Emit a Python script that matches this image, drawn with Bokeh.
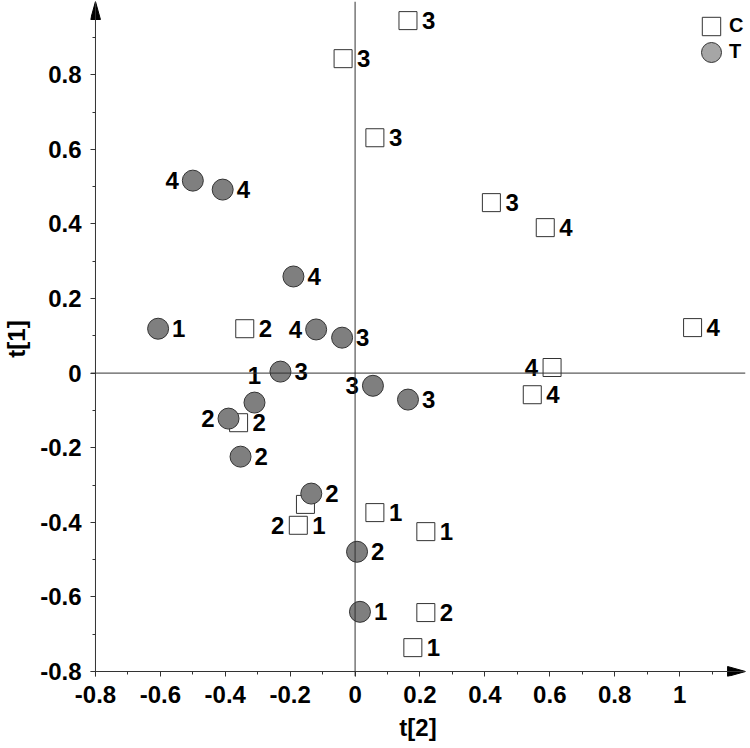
import math
from bokeh.plotting import figure
from bokeh.models import (ColumnDataSource, FixedTicker, CustomJSTickFormatter, Span,
                          Legend, LegendItem)
from bokeh.core.properties import value
from bokeh.embed import file_html
from bokeh.resources import INLINE

# ---------------- data ----------------
C_x = [0.163, -0.037, 0.061, 0.420, 0.586, 1.040, -0.340, 0.607, 0.546, -0.359,
       -0.153, -0.175, 0.061, 0.218, 0.218, 0.178]
C_y = [0.945, 0.843, 0.631, 0.457, 0.390, 0.122, 0.119, 0.015, -0.058, -0.133,
       -0.352, -0.408, -0.374, -0.425, -0.642, -0.736]
C_label_right = ["3", "3", "3", "3", "4", "4", "2", "", "4", "2", "", "1", "1", "1", "2", "1"]
C_label_left = ["", "", "", "", "", "", "", "4", "", "", "", "2", "", "", "", ""]

T_x = [-0.500, -0.408, -0.190, -0.607, -0.120, -0.040, -0.230, -0.310, 0.055, 0.163,
       -0.390, -0.353, -0.135, 0.006, 0.015]
T_y = [0.516, 0.492, 0.259, 0.119, 0.117, 0.095, 0.004, -0.079, -0.034, -0.071,
       -0.122, -0.224, -0.323, -0.479, -0.640]
T_label_right = ["", "4", "4", "1", "", "3", "3", "", "", "3", "", "2", "2", "2", "1"]
T_label_left = ["4", "", "", "", "4", "", "", "", "3", "", "2", "", "", "", ""]
T_label_above = ["", "", "", "", "", "", "", "1", "", "", "", "", "", "", ""]

x_ticks = [-0.8, -0.6, -0.4, -0.2, 0.0, 0.2, 0.4, 0.6, 0.8, 1.0]
x_minor = [-0.7, -0.5, -0.3, -0.1, 0.1, 0.3, 0.5, 0.7, 0.9, 1.1]
y_ticks = [-0.8, -0.6, -0.4, -0.2, 0.0, 0.2, 0.4, 0.6, 0.8]
y_minor = [-0.7, -0.5, -0.3, -0.1, 0.1, 0.3, 0.5, 0.7, 0.9]
x_title = "t[2]"
y_title = "t[1]"
legend_labels = ["C", "T"]
AXIS_ORIGIN = (-0.8, -0.8)   # where the two arrowed axes cross

# ---------------- layout / style ----------------
W, H = 750, 748
BORDER_L, BORDER_R, BORDER_T, BORDER_B = 87, 5, 1, 72
FRAME_W = W - BORDER_L - BORDER_R
FRAME_H = H - BORDER_T - BORDER_B
PX_X, PX_Y = 326.0, 373.0       # pixels per data unit
TICK = 5                        # tick length (px); frame edge sits one tick outside the axes

x_start = AXIS_ORIGIN[0] - TICK / PX_X
x_end = x_start + FRAME_W / PX_X
y_start = AXIS_ORIGIN[1] - TICK / PX_Y
y_end = y_start + FRAME_H / PX_Y

FONT = "Liberation Sans"
FS = "24px"
DARK = "#333333"

p = figure(width=W, height=H, x_range=(x_start, x_end), y_range=(y_start, y_end),
           output_backend="svg", toolbar_location=None,
           min_border_left=BORDER_L, min_border_right=BORDER_R,
           min_border_top=BORDER_T, min_border_bottom=BORDER_B)
p.grid.visible = False
p.outline_line_color = None
p.background_fill_color = "white"

for ax, ticks, minor, title in ((p.xaxis, x_ticks, x_minor, x_title),
                                (p.yaxis, y_ticks, y_minor, y_title)):
    ax.ticker = FixedTicker(ticks=ticks, minor_ticks=minor)
    ax.formatter = CustomJSTickFormatter(code="return String(Math.round(tick*10)/10);")
    ax.axis_line_color = None
    ax.major_tick_line_color = DARK
    ax.minor_tick_line_color = DARK
    ax.major_tick_in = TICK
    ax.major_tick_out = 0
    ax.minor_tick_in = TICK
    ax.minor_tick_out = -2
    ax.major_label_text_font = FONT
    ax.major_label_text_font_style = "bold"
    ax.major_label_text_font_size = FS
    ax.major_label_text_color = "black"
    ax.axis_label = title
    ax.axis_label_text_font = FONT
    ax.axis_label_text_font_style = "bold"
    ax.axis_label_text_font_size = FS
    ax.axis_label_text_color = "black"

p.xaxis.major_label_standoff = 9
p.xaxis.axis_label_standoff = 8
p.yaxis.major_label_standoff = 9
p.yaxis.axis_label_standoff = 7

# axis lines and zero lines
for loc, dim in ((AXIS_ORIGIN[0], "height"), (AXIS_ORIGIN[1], "width"), (0, "height"), (0, "width")):
    p.add_layout(Span(location=loc, dimension=dim, line_color=DARK, line_width=1))

# arrowheads (18 px long, 10 px wide) at the ends of the axes
HL, HW = 18, 5
p.patches(xs=[[x_end, x_end - HL / PX_X, x_end - HL / PX_X],
              [AXIS_ORIGIN[0], AXIS_ORIGIN[0] - HW / PX_X, AXIS_ORIGIN[0] + HW / PX_X]],
          ys=[[AXIS_ORIGIN[1], AXIS_ORIGIN[1] + HW / PX_Y, AXIS_ORIGIN[1] - HW / PX_Y],
              [y_end, y_end - HL / PX_Y, y_end - HL / PX_Y]],
          fill_color="black", line_color="black", line_width=1)

# points
src_c = ColumnDataSource(dict(x=C_x, y=C_y, r=C_label_right, l=C_label_left))
src_t = ColumnDataSource(dict(x=T_x, y=T_y, r=T_label_right, l=T_label_left, a=T_label_above))

r_c = p.scatter("x", "y", source=src_c, marker="square", size=18,
                fill_color="white", line_color=DARK, line_width=1)
r_t = p.scatter("x", "y", source=src_t, marker="circle", size=21,
                fill_color="#7f7f7f", line_color=DARK, line_width=1)

text_kw = dict(text_font=value(FONT), text_font_style="bold", text_font_size=FS,
               text_color="black", text_baseline="middle")
for src in (src_c, src_t):
    p.text("x", "y", text="r", source=src, x_offset=14, text_align="left", **text_kw)
    p.text("x", "y", text="l", source=src, x_offset=-14, text_align="right", **text_kw)
p.text("x", "y", text="a", source=src_t, y_offset=-27, text_align="center", **text_kw)

# legend: glyph-only legends (each with its own glyph size) + one text-only legend
leg_t_r = p.scatter(x=[math.nan], y=[math.nan], marker="circle", size=22,
                    fill_color="#a6a6a6", line_color=DARK, line_width=1)
leg_blank = p.scatter(x=[math.nan], y=[math.nan], marker="square", size=1,
                      fill_alpha=0, line_alpha=0)
leg_kw = dict(padding=0, margin=0, border_line_alpha=0, background_fill_alpha=0,
              label_text_font=FONT, label_text_font_style="bold", label_text_font_size="20px",
              label_text_color="black", label_width=0, label_height=0, label_standoff=0)
leg_c = Legend(items=[LegendItem(label=" ", renderers=[r_c])],
               location=(598, 627), glyph_width=46, glyph_height=46, **leg_kw)
leg_t = Legend(items=[LegendItem(label=" ", renderers=[leg_t_r])],
               location=(596, 599), glyph_width=50, glyph_height=50, **leg_kw)
leg_text = Legend(items=[LegendItem(label=lab, renderers=[leg_blank]) for lab in legend_labels],
                  location=(638, 612), glyph_width=1, glyph_height=26, spacing=0, **leg_kw)
p.add_layout(leg_c)
p.add_layout(leg_t)
p.add_layout(leg_text)

open("out.html", "w").write(file_html(p, INLINE))
